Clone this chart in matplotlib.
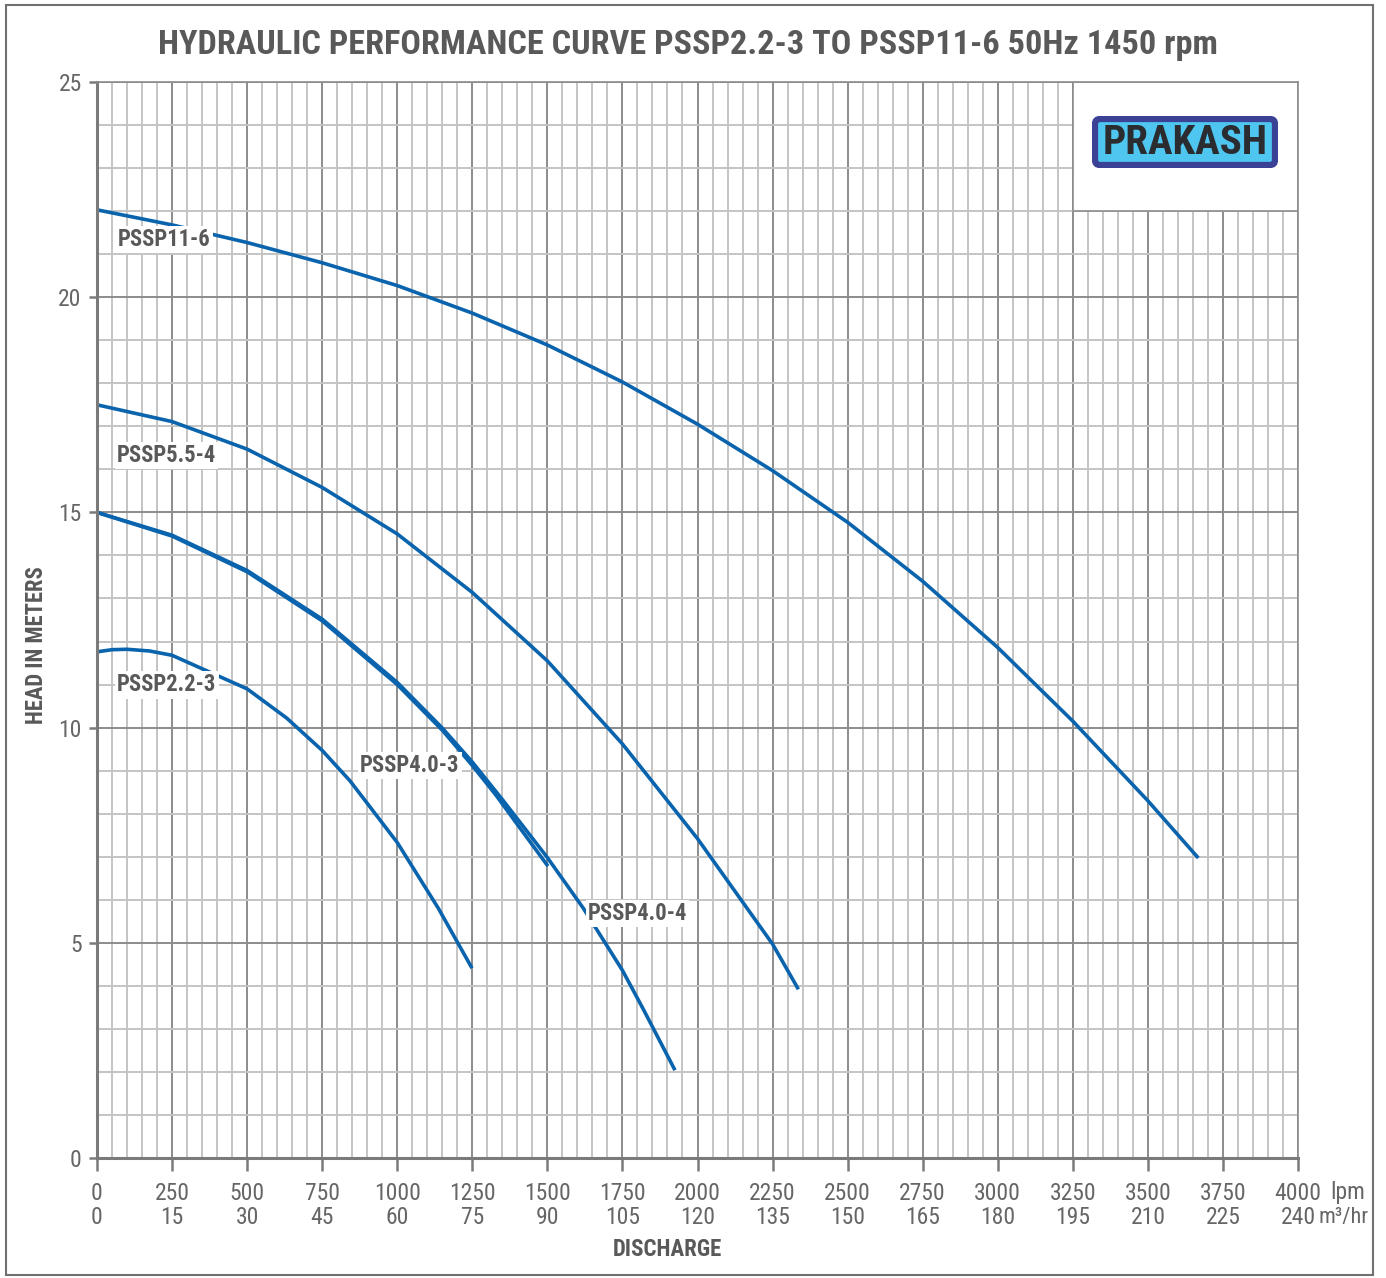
import matplotlib.pyplot as plt
from matplotlib.patches import Rectangle, FancyBboxPatch

TITLE = "HYDRAULIC PERFORMANCE CURVE PSSP2.2-3 TO PSSP11-6 50Hz 1450 rpm"

# discharge (lpm) vs head (m)
q_11_6 = [0, 250, 500, 750, 1000, 1250, 1500, 1750, 2000, 2250, 2500, 2750,
          3000, 3250, 3500, 3668]
h_11_6 = [22.03, 21.68, 21.27, 20.80, 20.27, 19.63, 18.89, 18.03, 17.05, 15.97,
          14.77, 13.40, 11.86, 10.15, 8.30, 6.97]

q_5_5 = [0, 250, 500, 750, 1000, 1250, 1500, 1750, 2000, 2250, 2336]
h_5_5 = [17.50, 17.11, 16.47, 15.58, 14.50, 13.14, 11.55, 9.62, 7.42, 4.97, 3.92]

q_4_4 = [0, 250, 500, 750, 1000, 1150, 1250, 1350, 1500, 1620, 1750, 1820, 1925]
h_4_4 = [15.00, 14.47, 13.65, 12.52, 11.05, 9.99, 9.20, 8.33, 6.98, 5.80, 4.36,
         3.45, 2.04]

q_4_3 = [0, 250, 500, 750, 1000, 1150, 1250, 1330, 1400, 1502]
h_4_3 = [15.00, 14.45, 13.62, 12.48, 11.00, 9.94, 9.12, 8.42, 7.75, 6.78]

q_2_2 = [0, 50, 100, 175, 250, 500, 632, 750, 843, 1000, 1137, 1249]
h_2_2 = [11.76, 11.81, 11.82, 11.78, 11.68, 10.90, 10.22, 9.47, 8.76, 7.33,
         5.80, 4.41]

curves = [(q_11_6, h_11_6), (q_5_5, h_5_5), (q_4_4, h_4_4),
          (q_4_3, h_4_3), (q_2_2, h_2_2)]

# curve name labels: (text, lpm, head)
labels = [("PSSP11-6", 70, 21.33), ("PSSP5.5-4", 67, 16.33),
          ("PSSP2.2-3", 67, 10.99), ("PSSP4.0-3", 876, 9.11),
          ("PSSP4.0-4", 1635, 5.69)]

LPM_TICKS = list(range(0, 4001, 250))
M3HR_TICKS = [0, 15, 30, 45, 60, 75, 90, 105, 120, 135, 150, 165, 180, 195,
              210, 225, 240]
HEAD_TICKS = [0, 5, 10, 15, 20, 25]

plt.rcParams['font.family'] = ['Roboto Condensed', 'Liberation Sans', 'DejaVu Sans']

W, H = 1386, 1278
fig = plt.figure(figsize=(W / 100, H / 100), dpi=100)
ax = fig.add_axes([97 / W, 1 - 1158 / H, 1201 / W, 1076 / H])

BLUE = '#0a64ad'
TXT = '#595959'
TICK = '#666666'
for q, h in curves:
    ax.plot(q, h, color=BLUE, lw=2.6, solid_capstyle='butt',
            solid_joinstyle='round', zorder=2)

for name, x, y in labels:
    ax.text(x, y, name, ha='left', va='center', fontsize=16.3, fontweight='bold',
            color=TXT, zorder=4,
            bbox=dict(facecolor='white', edgecolor='none', pad=1.5))

ax.set_xlim(0, 4000)
ax.set_ylim(0, 25)
ax.set_xticks(LPM_TICKS)
ax.set_xticklabels([f"{a}\n{b}" for a, b in zip(LPM_TICKS, M3HR_TICKS)],
                   fontsize=17, color=TICK, linespacing=1.1)
ax.set_xticks(range(0, 4001, 50), minor=True)
ax.set_yticks(HEAD_TICKS)
ax.set_yticklabels([str(v) for v in HEAD_TICKS], fontsize=17, color=TICK)
ax.set_yticks(range(0, 26), minor=True)
ax.tick_params(which='minor', length=0)
ax.tick_params(axis='x', which='major', length=9, width=1.8, color='#7a7a7a', pad=8)
ax.tick_params(axis='y', which='major', length=6, width=1.8, color='#7a7a7a', pad=5)

ax.set_axisbelow(True)
ax.grid(which='minor', color='#c4c4c4', lw=1.4)
ax.grid(which='major', color='#8c8c8c', lw=1.4)
for s in ['left', 'bottom']:
    ax.spines[s].set_color('#7a7a7a')
    ax.spines[s].set_linewidth(2.2)
for s in ['top', 'right']:
    ax.spines[s].set_color('#8c8c8c')
    ax.spines[s].set_linewidth(1.2)

# white box for the logo in the top-right corner
ax.add_patch(Rectangle((3250, 22), 750, 3, facecolor='white',
                       edgecolor='#8c8c8c', lw=1.2, zorder=1))

# logo
lax = fig.add_axes([1092 / W, 1 - 168 / H, 186 / W, 52 / H])
lax.set_xlim(0, 186)
lax.set_ylim(0, 52)
lax.axis('off')
lax.add_patch(FancyBboxPatch((3, 3), 180, 46,
                             boxstyle='round,pad=0,rounding_size=5',
                             facecolor='#4ec6f0', edgecolor='#3b4296', lw=4.5))
lax.text(93, 25, "PRAKASH", ha='center', va='center', fontsize=29.5,
         fontweight='bold', color='#2a2c30')

fig.text(688 / W, 1 - 45 / H, TITLE, ha='center', va='center', fontsize=24.7,
         fontweight='bold', color=TXT)
fig.text(37 / W, 1 - 645 / H, "HEAD IN METERS", ha='center', va='center',
         rotation=90, fontsize=16.3, fontweight='bold', color=TXT)
fig.text(667 / W, 1 - 1249 / H, "DISCHARGE", ha='center', va='center',
         fontsize=16.5, fontweight='bold', color=TXT)
fig.text(1330 / W, 1 - 1193 / H, "lpm", ha='left', va='center', fontsize=17,
         color=TICK)
fig.text(1318 / W, 1 - 1218 / H, "m³/hr", ha='left', va='center',
         fontsize=16, color=TICK)

# outer frame
fig.add_artist(Rectangle((6 / W, 3 / H), 1367 / W, 1 - 8 / H,
                         transform=fig.transFigure, fill=False,
                         edgecolor='#707070', lw=1.5))

fig.savefig("out.png", dpi=100)
